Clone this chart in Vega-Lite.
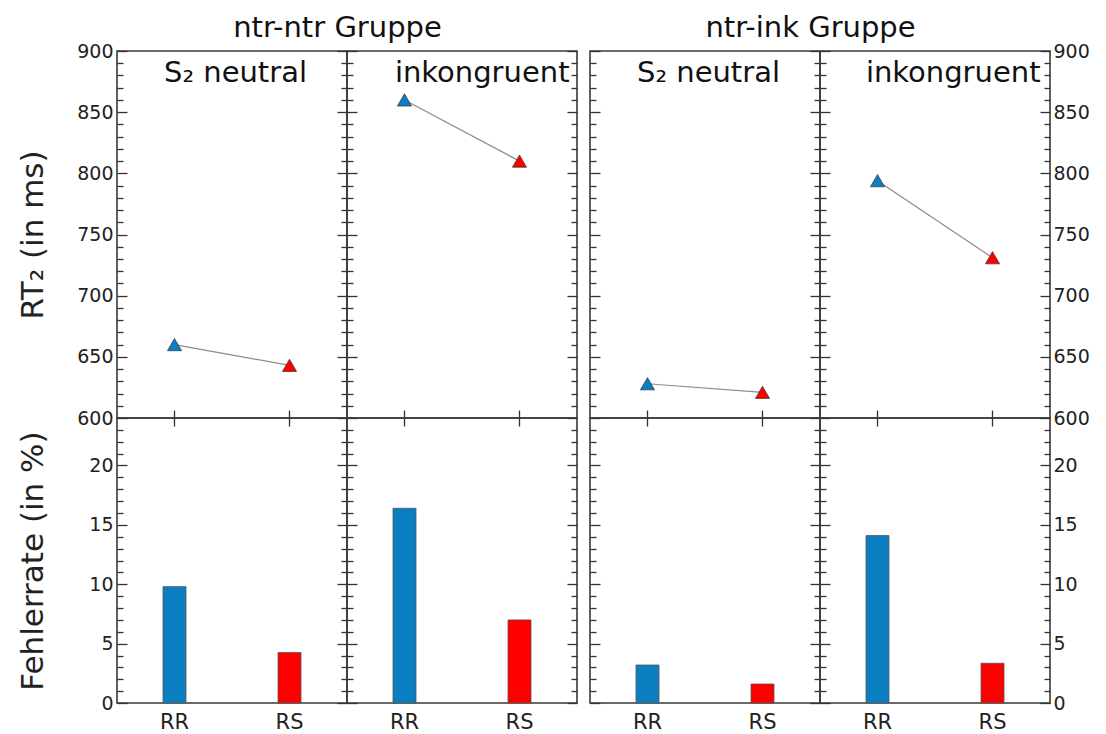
{
 "$schema": "https://vega.github.io/schema/vega-lite/v6.json",
 "padding": {"left": 16, "top": 12, "right": 0, "bottom": 0},
 "background": "white",
 "datasets": {"d": [
   {"group":"ntr-ntr","cond":"neutral","type":"RR","rt":660,"err":9.8},
   {"group":"ntr-ntr","cond":"neutral","type":"RS","rt":643,"err":4.25},
   {"group":"ntr-ntr","cond":"inkongruent","type":"RR","rt":860,"err":16.4},
   {"group":"ntr-ntr","cond":"inkongruent","type":"RS","rt":810,"err":7.0},
   {"group":"ntr-ink","cond":"neutral","type":"RR","rt":628,"err":3.2},
   {"group":"ntr-ink","cond":"neutral","type":"RS","rt":621,"err":1.6},
   {"group":"ntr-ink","cond":"inkongruent","type":"RR","rt":794,"err":14.1},
   {"group":"ntr-ink","cond":"inkongruent","type":"RS","rt":731,"err":3.35}
 ]},
 "data": {"name": "d"},
 "columns": 5,
 "spacing": 0,
 "bounds": "flush",
 "concat": [
  {
   "width": 230, "height": 367,
   "transform": [{"filter": "datum.group === 'ntr-ntr' && datum.cond === 'neutral'"}],
   "layer": [
    {"mark": {"type": "line", "color": "#8c8c8c", "strokeWidth": 1.2},
     "encoding": {
      "x": {"field": "type", "type": "nominal", "scale": {"type": "band", "domain": ["RR","RS"], "paddingInner": 0.8, "paddingOuter": 0.4}, "axis": {"orient": "bottom", "labels": false, "tickSize": -8, "bandPosition": 0.5, "title": "S₂ neutral", "titleX": 118, "titleY": -337, "titleAlign": "center", "titleBaseline": "alphabetic", "titleFontSize": 29, "titleColor": "#111"}},
      "y": {"field": "rt", "type": "quantitative", "scale": {"domain": [600, 900], "nice": false, "zero": false},
       "axis": {"orient": "left", "values": [600,610,620,630,640,650,660,670,680,690,700,710,720,730,740,750,760,770,780,790,800,810,820,830,840,850,860,870,880,890,900], "labelExpr": "datum.value % 50 === 0 ? datum.label : ''", "tickSize": {"condition": {"test": "datum.value % 50 === 0", "value": -10}, "value": -6}, "labelPadding": 14, "title": "RT₂ (in ms)", "titleX": -68, "titleFontSize": 31}}}},
    {"mark": {"type": "point", "shape": "triangle-up", "filled": true, "size": 200, "opacity": 1, "stroke": "#333", "strokeWidth": 0.7},
     "encoding": {
      "x": {"field": "type", "type": "nominal", "axis": {"orient": "top", "ticks": false, "labels": false, "title": "ntr-ntr Gruppe", "titleX": 220, "titleY": -15, "titleAlign": "center", "titleBaseline": "alphabetic", "titleFontSize": 29, "titleColor": "#111"}},
      "y": {"field": "rt", "type": "quantitative",
       "axis": {"orient": "right", "values": [600,610,620,630,640,650,660,670,680,690,700,710,720,730,740,750,760,770,780,790,800,810,820,830,840,850,860,870,880,890,900], "labels": false, "tickSize": {"condition": {"test": "datum.value % 50 === 0", "value": -10}, "value": -6}, "title": null}},
      "color": {"field": "type", "type": "nominal", "scale": {"domain": ["RR","RS"], "range": ["#0b7ec2","#ff0000"]}, "legend": null}}}
   ],
   "resolve": {"axis": {"x": "independent", "y": "independent"}}
  },
  {
   "width": 230, "height": 367,
   "transform": [{"filter": "datum.group === 'ntr-ntr' && datum.cond === 'inkongruent'"}],
   "layer": [
    {"mark": {"type": "line", "color": "#8c8c8c", "strokeWidth": 1.2},
     "encoding": {
      "x": {"field": "type", "type": "nominal", "scale": {"type": "band", "domain": ["RR","RS"], "paddingInner": 0.8, "paddingOuter": 0.4}, "axis": {"orient": "bottom", "labels": false, "tickSize": -8, "bandPosition": 0.5, "title": "inkongruent", "titleX": 222, "titleY": -337, "titleAlign": "right", "titleBaseline": "alphabetic", "titleFontSize": 29, "titleColor": "#111"}},
      "y": {"field": "rt", "type": "quantitative", "scale": {"domain": [600, 900], "nice": false, "zero": false},
       "axis": {"orient": "left", "values": [600,610,620,630,640,650,660,670,680,690,700,710,720,730,740,750,760,770,780,790,800,810,820,830,840,850,860,870,880,890,900], "labels": false, "tickSize": {"condition": {"test": "datum.value % 50 === 0", "value": -10}, "value": -6}, "title": null}}}},
    {"mark": {"type": "point", "shape": "triangle-up", "filled": true, "size": 200, "opacity": 1, "stroke": "#333", "strokeWidth": 0.7},
     "encoding": {
      "x": {"field": "type", "type": "nominal", "axis": null},
      "y": {"field": "rt", "type": "quantitative",
       "axis": {"orient": "right", "values": [600,610,620,630,640,650,660,670,680,690,700,710,720,730,740,750,760,770,780,790,800,810,820,830,840,850,860,870,880,890,900], "labels": false, "tickSize": {"condition": {"test": "datum.value % 50 === 0", "value": -10}, "value": -6}, "title": null}},
      "color": {"field": "type", "type": "nominal", "scale": {"domain": ["RR","RS"], "range": ["#0b7ec2","#ff0000"]}, "legend": null}}}
   ],
   "resolve": {"axis": {"x": "independent", "y": "independent"}}
  },
  {
   "width": 13, "height": 367,
   "data": {"values": []},
   "mark": {"type": "point", "opacity": 0},
   "view": {"stroke": null}
  },
  {
   "width": 230, "height": 367,
   "transform": [{"filter": "datum.group === 'ntr-ink' && datum.cond === 'neutral'"}],
   "layer": [
    {"mark": {"type": "line", "color": "#8c8c8c", "strokeWidth": 1.2},
     "encoding": {
      "x": {"field": "type", "type": "nominal", "scale": {"type": "band", "domain": ["RR","RS"], "paddingInner": 0.8, "paddingOuter": 0.4}, "axis": {"orient": "bottom", "labels": false, "tickSize": -8, "bandPosition": 0.5, "title": "S₂ neutral", "titleX": 118, "titleY": -337, "titleAlign": "center", "titleBaseline": "alphabetic", "titleFontSize": 29, "titleColor": "#111"}},
      "y": {"field": "rt", "type": "quantitative", "scale": {"domain": [600, 900], "nice": false, "zero": false},
       "axis": {"orient": "left", "values": [600,610,620,630,640,650,660,670,680,690,700,710,720,730,740,750,760,770,780,790,800,810,820,830,840,850,860,870,880,890,900], "labels": false, "tickSize": {"condition": {"test": "datum.value % 50 === 0", "value": -10}, "value": -6}, "title": null}}}},
    {"mark": {"type": "point", "shape": "triangle-up", "filled": true, "size": 200, "opacity": 1, "stroke": "#333", "strokeWidth": 0.7},
     "encoding": {
      "x": {"field": "type", "type": "nominal", "axis": {"orient": "top", "ticks": false, "labels": false, "title": "ntr-ink Gruppe", "titleX": 220, "titleY": -15, "titleAlign": "center", "titleBaseline": "alphabetic", "titleFontSize": 29, "titleColor": "#111"}},
      "y": {"field": "rt", "type": "quantitative",
       "axis": {"orient": "right", "values": [600,610,620,630,640,650,660,670,680,690,700,710,720,730,740,750,760,770,780,790,800,810,820,830,840,850,860,870,880,890,900], "labels": false, "tickSize": {"condition": {"test": "datum.value % 50 === 0", "value": -10}, "value": -6}, "title": null}},
      "color": {"field": "type", "type": "nominal", "scale": {"domain": ["RR","RS"], "range": ["#0b7ec2","#ff0000"]}, "legend": null}}}
   ],
   "resolve": {"axis": {"x": "independent", "y": "independent"}}
  },
  {
   "width": 230, "height": 367,
   "transform": [{"filter": "datum.group === 'ntr-ink' && datum.cond === 'inkongruent'"}],
   "layer": [
    {"mark": {"type": "line", "color": "#8c8c8c", "strokeWidth": 1.2},
     "encoding": {
      "x": {"field": "type", "type": "nominal", "scale": {"type": "band", "domain": ["RR","RS"], "paddingInner": 0.8, "paddingOuter": 0.4}, "axis": {"orient": "bottom", "labels": false, "tickSize": -8, "bandPosition": 0.5, "title": "inkongruent", "titleX": 220, "titleY": -337, "titleAlign": "right", "titleBaseline": "alphabetic", "titleFontSize": 29, "titleColor": "#111"}},
      "y": {"field": "rt", "type": "quantitative", "scale": {"domain": [600, 900], "nice": false, "zero": false},
       "axis": {"orient": "left", "values": [600,610,620,630,640,650,660,670,680,690,700,710,720,730,740,750,760,770,780,790,800,810,820,830,840,850,860,870,880,890,900], "labels": false, "tickSize": {"condition": {"test": "datum.value % 50 === 0", "value": -10}, "value": -6}, "title": null}}}},
    {"mark": {"type": "point", "shape": "triangle-up", "filled": true, "size": 200, "opacity": 1, "stroke": "#333", "strokeWidth": 0.7},
     "encoding": {
      "x": {"field": "type", "type": "nominal", "axis": null},
      "y": {"field": "rt", "type": "quantitative",
       "axis": {"orient": "right", "values": [600,610,620,630,640,650,660,670,680,690,700,710,720,730,740,750,760,770,780,790,800,810,820,830,840,850,860,870,880,890,900], "labelExpr": "datum.value % 50 === 0 ? datum.label : ''", "tickSize": {"condition": {"test": "datum.value % 50 === 0", "value": -10}, "value": -6}, "labelPadding": 13, "title": null}},
      "color": {"field": "type", "type": "nominal", "scale": {"domain": ["RR","RS"], "range": ["#0b7ec2","#ff0000"]}, "legend": null}}}
   ],
   "resolve": {"axis": {"x": "independent", "y": "independent"}}
  },
  {
   "width": 230, "height": 285,
   "transform": [{"filter": "datum.group === 'ntr-ntr' && datum.cond === 'neutral'"}],
   "layer": [
    {"mark": {"type": "bar", "stroke": "#555", "strokeWidth": 0.8},
     "encoding": {
      "x": {"field": "type", "type": "nominal", "scale": {"type": "band", "domain": ["RR","RS"], "paddingInner": 0.8, "paddingOuter": 0.4}, "axis": {"orient": "bottom", "ticks": false, "labelPadding": 8, "labelAngle": 0, "labelFontSize": 21, "title": null}},
      "y": {"field": "err", "type": "quantitative", "scale": {"domain": [0, 24], "nice": false},
       "axis": {"orient": "left", "values": [0,1,2,3,4,5,6,7,8,9,10,11,12,13,14,15,16,17,18,19,20,21,22,23], "labelExpr": "datum.value % 5 === 0 ? datum.label : ''", "tickSize": {"condition": {"test": "datum.value % 5 === 0", "value": -10}, "value": -6}, "labelPadding": 14, "title": "Fehlerrate (in %)", "titleX": -68, "titleFontSize": 31}},
      "color": {"field": "type", "type": "nominal", "scale": {"domain": ["RR","RS"], "range": ["#0b7ec2","#ff0000"]}, "legend": null}}},
    {"mark": {"type": "point", "opacity": 0},
     "encoding": {
      "x": {"field": "type", "type": "nominal", "axis": {"orient": "top", "labels": false, "title": null, "tickSize": -8, "bandPosition": 0.5}},
      "y": {"field": "err", "type": "quantitative",
       "axis": {"orient": "right", "values": [0,1,2,3,4,5,6,7,8,9,10,11,12,13,14,15,16,17,18,19,20,21,22,23], "labels": false, "tickSize": {"condition": {"test": "datum.value % 5 === 0", "value": -10}, "value": -6}, "title": null}}}}
   ],
   "resolve": {"axis": {"x": "independent", "y": "independent"}}
  },
  {
   "width": 230, "height": 285,
   "transform": [{"filter": "datum.group === 'ntr-ntr' && datum.cond === 'inkongruent'"}],
   "layer": [
    {"mark": {"type": "bar", "stroke": "#555", "strokeWidth": 0.8},
     "encoding": {
      "x": {"field": "type", "type": "nominal", "scale": {"type": "band", "domain": ["RR","RS"], "paddingInner": 0.8, "paddingOuter": 0.4}, "axis": {"orient": "bottom", "ticks": false, "labelPadding": 8, "labelAngle": 0, "labelFontSize": 21, "title": null}},
      "y": {"field": "err", "type": "quantitative", "scale": {"domain": [0, 24], "nice": false},
       "axis": {"orient": "left", "values": [0,1,2,3,4,5,6,7,8,9,10,11,12,13,14,15,16,17,18,19,20,21,22,23], "labels": false, "tickSize": {"condition": {"test": "datum.value % 5 === 0", "value": -10}, "value": -6}, "title": null}},
      "color": {"field": "type", "type": "nominal", "scale": {"domain": ["RR","RS"], "range": ["#0b7ec2","#ff0000"]}, "legend": null}}},
    {"mark": {"type": "point", "opacity": 0},
     "encoding": {
      "x": {"field": "type", "type": "nominal", "axis": {"orient": "top", "labels": false, "title": null, "tickSize": -8, "bandPosition": 0.5}},
      "y": {"field": "err", "type": "quantitative",
       "axis": {"orient": "right", "values": [0,1,2,3,4,5,6,7,8,9,10,11,12,13,14,15,16,17,18,19,20,21,22,23], "labels": false, "tickSize": {"condition": {"test": "datum.value % 5 === 0", "value": -10}, "value": -6}, "title": null}}}}
   ],
   "resolve": {"axis": {"x": "independent", "y": "independent"}}
  },
  {
   "width": 13, "height": 285,
   "data": {"values": []},
   "mark": {"type": "point", "opacity": 0},
   "view": {"stroke": null}
  },
  {
   "width": 230, "height": 285,
   "transform": [{"filter": "datum.group === 'ntr-ink' && datum.cond === 'neutral'"}],
   "layer": [
    {"mark": {"type": "bar", "stroke": "#555", "strokeWidth": 0.8},
     "encoding": {
      "x": {"field": "type", "type": "nominal", "scale": {"type": "band", "domain": ["RR","RS"], "paddingInner": 0.8, "paddingOuter": 0.4}, "axis": {"orient": "bottom", "ticks": false, "labelPadding": 8, "labelAngle": 0, "labelFontSize": 21, "title": null}},
      "y": {"field": "err", "type": "quantitative", "scale": {"domain": [0, 24], "nice": false},
       "axis": {"orient": "left", "values": [0,1,2,3,4,5,6,7,8,9,10,11,12,13,14,15,16,17,18,19,20,21,22,23], "labels": false, "tickSize": {"condition": {"test": "datum.value % 5 === 0", "value": -10}, "value": -6}, "title": null}},
      "color": {"field": "type", "type": "nominal", "scale": {"domain": ["RR","RS"], "range": ["#0b7ec2","#ff0000"]}, "legend": null}}},
    {"mark": {"type": "point", "opacity": 0},
     "encoding": {
      "x": {"field": "type", "type": "nominal", "axis": {"orient": "top", "labels": false, "title": null, "tickSize": -8, "bandPosition": 0.5}},
      "y": {"field": "err", "type": "quantitative",
       "axis": {"orient": "right", "values": [0,1,2,3,4,5,6,7,8,9,10,11,12,13,14,15,16,17,18,19,20,21,22,23], "labels": false, "tickSize": {"condition": {"test": "datum.value % 5 === 0", "value": -10}, "value": -6}, "title": null}}}}
   ],
   "resolve": {"axis": {"x": "independent", "y": "independent"}}
  },
  {
   "width": 230, "height": 285,
   "transform": [{"filter": "datum.group === 'ntr-ink' && datum.cond === 'inkongruent'"}],
   "layer": [
    {"mark": {"type": "bar", "stroke": "#555", "strokeWidth": 0.8},
     "encoding": {
      "x": {"field": "type", "type": "nominal", "scale": {"type": "band", "domain": ["RR","RS"], "paddingInner": 0.8, "paddingOuter": 0.4}, "axis": {"orient": "bottom", "ticks": false, "labelPadding": 8, "labelAngle": 0, "labelFontSize": 21, "title": null}},
      "y": {"field": "err", "type": "quantitative", "scale": {"domain": [0, 24], "nice": false},
       "axis": {"orient": "left", "values": [0,1,2,3,4,5,6,7,8,9,10,11,12,13,14,15,16,17,18,19,20,21,22,23], "labels": false, "tickSize": {"condition": {"test": "datum.value % 5 === 0", "value": -10}, "value": -6}, "title": null}},
      "color": {"field": "type", "type": "nominal", "scale": {"domain": ["RR","RS"], "range": ["#0b7ec2","#ff0000"]}, "legend": null}}},
    {"mark": {"type": "point", "opacity": 0},
     "encoding": {
      "x": {"field": "type", "type": "nominal", "axis": {"orient": "top", "labels": false, "title": null, "tickSize": -8, "bandPosition": 0.5}},
      "y": {"field": "err", "type": "quantitative",
       "axis": {"orient": "right", "values": [0,1,2,3,4,5,6,7,8,9,10,11,12,13,14,15,16,17,18,19,20,21,22,23], "labelExpr": "datum.value % 5 === 0 ? datum.label : ''", "tickSize": {"condition": {"test": "datum.value % 5 === 0", "value": -10}, "value": -6}, "labelPadding": 13, "title": null}}}}
   ],
   "resolve": {"axis": {"x": "independent", "y": "independent"}}
  }
 ],
 "config": {
  "font": "DejaVu Sans",
  "view": {"stroke": "#3a3a3a", "strokeWidth": 1.6},
  "axis": {"domain": false, "grid": false, "minExtent": 0, "labelFont": "DejaVu Sans", "labelFontSize": 19, "labelColor": "#222", "tickColor": "#333", "tickWidth": 1.3, "titleFont": "DejaVu Sans", "titleFontWeight": "normal", "titleFontSize": 28, "titleColor": "#222"},
  "title": {"font": "DejaVu Sans", "fontWeight": "normal", "color": "#111"}
 }
}
